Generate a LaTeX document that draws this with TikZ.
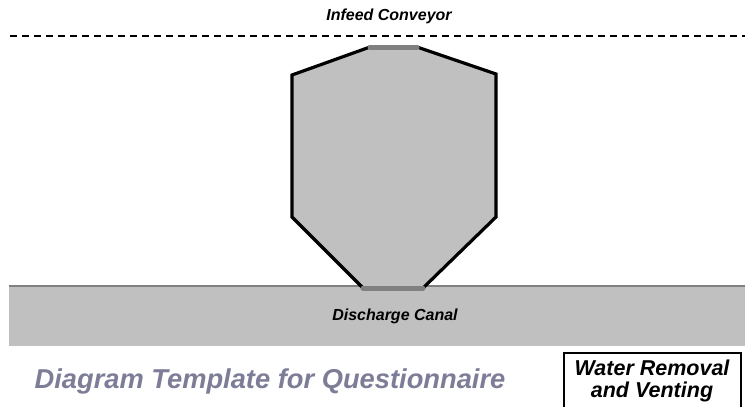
\documentclass[tikz,border=0pt]{standalone}
\usepackage{fontspec}
\setmainfont{Liberation Sans}
\definecolor{fillgrey}{RGB}{192,192,192}
\definecolor{edgegrey}{RGB}{128,128,128}
\definecolor{titlecol}{RGB}{125,125,152}
\begin{document}
\begin{tikzpicture}[x=1pt,y=-1pt,
  lbl/.style={font=\bfseries\itshape\fontsize{16}{18}\selectfont, inner sep=0pt},
  outline/.style={line width=3.2pt, line join=miter},
  port/.style={line width=5pt, draw=edgegrey, line cap=round}]
\useasboundingbox (0,0) rectangle (745,407);
% canal
\fill[fillgrey] (9,286) rectangle (745,346);
\draw[edgegrey, line width=1.5pt] (9,286) -- (745,286);
% hopper
\coordinate (t1) at (370,47);
\coordinate (t2) at (417,47);
\coordinate (a) at (292,75);
\coordinate (b) at (292,217);
\coordinate (c) at (363,288);
\coordinate (d) at (423,288);
\coordinate (e) at (496,217);
\coordinate (f) at (496,74);
\fill[fillgrey] (t1) -- (a) -- (b) -- (c) -- (d) -- (e) -- (f) -- (t2) -- cycle;
\draw[outline] (t1) -- (a) -- (b) -- (c);
\draw[outline] (d) -- (e) -- (f) -- (t2);
\draw[port] (t1) -- (t2);
\draw[port] (c) -- (d);
% conveyor
\coordinate (cl) at (10,36);
\coordinate (cr) at (745,36);
\draw[line width=2pt, dash pattern=on 7pt off 5pt] (cl) -- (cr);
\node[lbl] (infeed) at (389,16) {Infeed Conveyor};
\node[lbl] (canal) at (395,316) {Discharge Canal};
\node[font=\bfseries\itshape\fontsize{27.3}{30}\selectfont, text=titlecol, inner sep=0pt] (title) at (270,381) {Diagram Template for Questionnaire};
\draw[line width=1.5pt] (564,410) -- (564,353) -- (741,353) -- (741,410);
\node[font=\bfseries\itshape\fontsize{21.5}{22.5}\selectfont, align=center, inner sep=0pt] (box) at (652,381) {Water Removal\\and Venting};
\end{tikzpicture}
\end{document}
